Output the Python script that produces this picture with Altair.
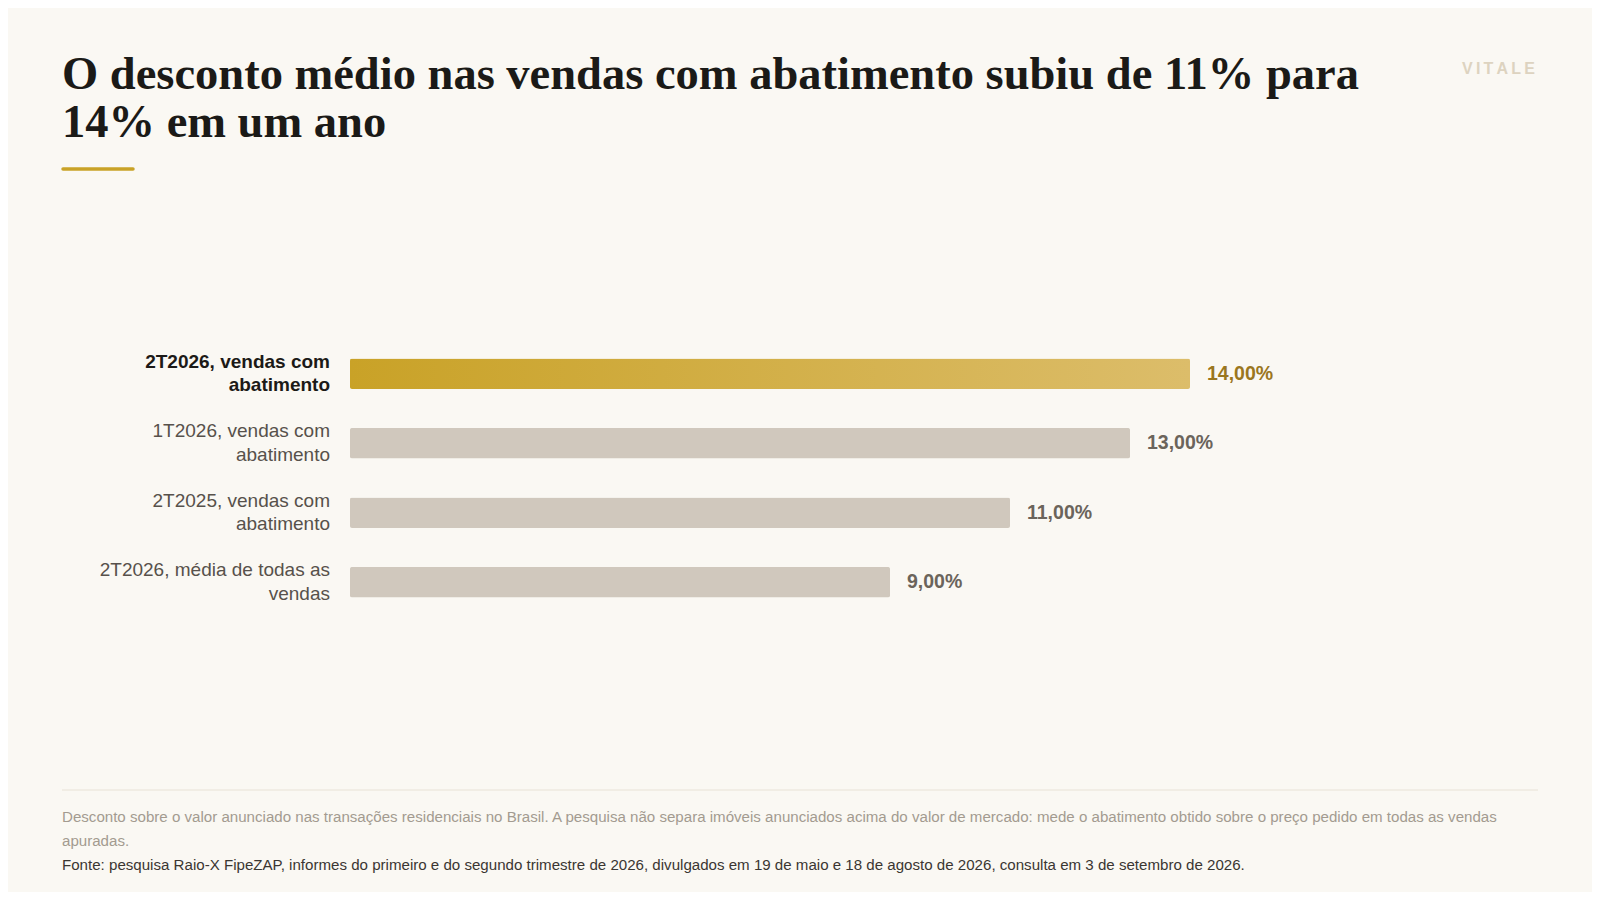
import altair as alt
import pandas as pd

# ---- data ----
categories = [
    "2T2026, vendas com\nabatimento",
    "1T2026, vendas com\nabatimento",
    "2T2025, vendas com\nabatimento",
    "2T2026, média de todas as\nvendas",
]
values = [14.0, 13.0, 11.0, 9.0]
highlight = [True, False, False, False]

title_text = "O desconto médio nas vendas com abatimento subiu de 11% para\n14% em um ano"
brand_text = "VITALE"
note_text = ("Desconto sobre o valor anunciado nas transações residenciais no Brasil. A pesquisa não separa imóveis "
             "anunciados acima do valor de mercado: mede o abatimento obtido sobre o preço pedido em todas as vendas\napuradas.")
source_text = ("Fonte: pesquisa Raio-X FipeZAP, informes do primeiro e do segundo trimestre de 2026, divulgados em 19 de maio "
               "e 18 de agosto de 2026, consulta em 3 de setembro de 2026.")

df = pd.DataFrame({
    "cat": categories,
    "value": values,
    "hl": highlight,
    "label": [f"{v:.2f}".replace(".", ",") + "%" for v in values],
})

BG = "#faf8f3"
GOLD = "#c9a227"
GRAY_BAR = "#d0c8bd"
SANS = "Liberation Sans"

x = alt.X("value:Q", scale=alt.Scale(domain=[0, 14], nice=False, zero=True), axis=None)
y = alt.Y("cat:N", sort=categories,
          scale=alt.Scale(paddingInner=0.56, paddingOuter=0.28), axis=None)

base = alt.Chart(df)

bars_gray = base.transform_filter("!datum.hl").mark_bar(
    color=GRAY_BAR, cornerRadius=2).encode(x=x, y=y)

gold_grad = alt.LinearGradient(
    gradient="linear",
    stops=[alt.GradientStop(color="#c9a227", offset=0),
           alt.GradientStop(color="#dcbd6a", offset=1)],
    x1=0, x2=1, y1=0, y2=0)
bars_gold = base.transform_filter("datum.hl").mark_bar(
    color=gold_grad, cornerRadius=2).encode(x=x, y=y)

cat_gray = base.transform_filter("!datum.hl").mark_text(
    align="right", baseline="middle", dx=-20, dy=-12, font=SANS, fontSize=19,
    lineBreak="\n", lineHeight=23.5, color="#57514b").encode(
    x=alt.value(0), y=y, text="cat:N")
cat_hl = base.transform_filter("datum.hl").mark_text(
    align="right", baseline="middle", dx=-20, dy=-12, font=SANS, fontSize=19, fontWeight="bold",
    lineBreak="\n", lineHeight=23.5, color="#1c1a17").encode(
    x=alt.value(0), y=y, text="cat:N")

val_gray = base.transform_filter("!datum.hl").mark_text(
    align="left", baseline="middle", dx=17, font=SANS, fontSize=19.5, fontWeight="bold",
    color="#6b645b").encode(x=x, y=y, text="label:N")
val_hl = base.transform_filter("datum.hl").mark_text(
    align="left", baseline="middle", dx=17, font=SANS, fontSize=19.5, fontWeight="bold",
    color="#9a7620").encode(x=x, y=y, text="label:N")

one = pd.DataFrame({"t": [title_text]})
title = alt.Chart(one).mark_text(
    align="left", baseline="alphabetic", font="Liberation Serif", fontSize=46.5, fontWeight="bold",
    lineBreak="\n", lineHeight=47.5, color="#1b1a17").encode(
    x=alt.value(-288), y=alt.value(-250), text="t:N")

underline = alt.Chart(pd.DataFrame({"a": [0]})).mark_rule(
    color=GOLD, strokeWidth=3.5, strokeCap="round").encode(
    x=alt.value(-287), x2=alt.value(-217), y=alt.value(-170))

brand = alt.Chart(pd.DataFrame({"t": ["\u2009".join(brand_text)]})).mark_text(
    align="right", baseline="alphabetic", font=SANS, fontSize=16, fontWeight="bold",
    color="#ddd3c0").encode(
    x=alt.value(1185), y=alt.value(-265), text="t:N")

divider = alt.Chart(pd.DataFrame({"a": [0]})).mark_rule(
    color="#e8e2d6", strokeWidth=1).encode(
    x=alt.value(-288), x2=alt.value(1188), y=alt.value(451))

note = alt.Chart(pd.DataFrame({"t": [note_text]})).mark_text(
    align="left", baseline="alphabetic", font=SANS, fontSize=15.1,
    lineBreak="\n", lineHeight=23.5, color="#a39b90").encode(
    x=alt.value(-288), y=alt.value(483), text="t:N")

source = alt.Chart(pd.DataFrame({"t": [source_text]})).mark_text(
    align="left", baseline="alphabetic", font=SANS, fontSize=15.1, color="#3a3632").encode(
    x=alt.value(-288), y=alt.value(531), text="t:N")

chart = alt.layer(
    bars_gray, bars_gold, cat_gray, cat_hl, val_gray, val_hl,
    title, underline, brand, divider, note, source,
).properties(
    width=840, height=278,
    padding={"left": 342, "top": 331, "right": 402, "bottom": 275},
    autosize="none",
).configure(background=BG).configure_view(stroke=None)

chart.save("out.html", embed_options={"renderer": "svg", "actions": False})
